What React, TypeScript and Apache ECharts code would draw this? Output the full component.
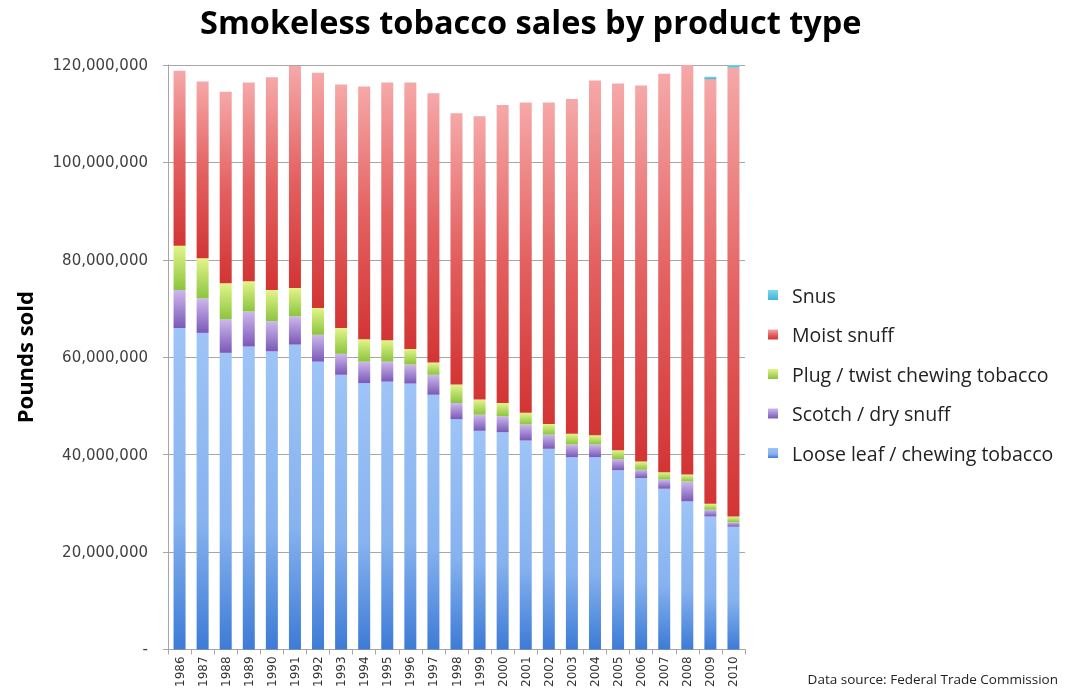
import React, { useEffect, useRef } from "react";
import * as echarts from "echarts";

const years = ["1986","1987","1988","1989","1990","1991","1992","1993","1994","1995","1996","1997","1998","1999","2000","2001","2002","2003","2004","2005","2006","2007","2008","2009","2010"];
// values in millions of pounds
const looseLeaf = [66.0,65.0,60.9,62.2,61.2,62.6,59.1,56.4,54.7,55.0,54.6,52.3,47.3,44.9,44.6,42.9,41.2,39.5,39.5,36.8,35.2,33.0,30.4,27.3,25.2];
const scotch = [7.8,7.1,6.9,7.2,6.2,5.8,5.5,4.3,4.4,4.1,3.9,4.1,3.3,3.3,3.3,3.3,2.9,2.6,2.6,2.3,1.7,1.9,4.1,1.4,0.9];
const plug = [9.1,8.2,7.4,6.2,6.4,5.8,5.5,5.3,4.6,4.4,3.2,2.5,3.8,3.1,2.7,2.4,2.2,2.2,1.9,1.8,1.7,1.5,1.4,1.2,1.2];
const moist = [35.9,36.3,39.3,40.8,43.7,45.6,48.3,50.0,51.9,52.9,54.7,55.3,55.7,58.2,61.2,63.7,66.0,68.7,72.8,75.3,77.2,81.8,84.1,87.2,92.2];
const snus = [0,0,0,0,0,0,0,0,0,0,0,0,0,0,0,0,0,0,0,0,0,0,0,0.5,0.5];
const legendOrder = ["Snus", "Moist snuff", "Plug / twist chewing tobacco", "Scotch / dry snuff", "Loose leaf / chewing tobacco"];

const grad = (stops: [number, string][]) =>
  new echarts.graphic.LinearGradient(0, 0, 0, 1, stops.map(([offset, color]) => ({ offset, color })));

export default function App() {
  const ref = useRef<HTMLDivElement>(null);
  useEffect(() => {
    if (!ref.current) return;
    const chart = echarts.init(ref.current, undefined, { renderer: "svg" });
    const mk = (name: string, arr: number[], color: any) => ({
      name,
      type: "bar",
      stack: "total",
      barWidth: 12,
      data: arr.map((v) => v * 1e6),
      itemStyle: { color },
    });
    chart.setOption({
      animation: false,
      textStyle: { fontFamily: "Open Sans" },
      title: {
        text: "Smokeless tobacco sales by product type",
        left: 195,
        top: 0,
        textStyle: { fontSize: 32.5, fontWeight: "bold", color: "#000", fontFamily: "Open Sans" },
      },
      legend: {
        orient: "vertical",
        left: 763,
        top: 280,
        itemWidth: 10,
        itemHeight: 10,
        itemGap: 19.5,
        icon: "rect",
        data: legendOrder,
        textStyle: { fontSize: 19.5, color: "#222", fontFamily: "Open Sans", padding: [0, 0, 0, 9] },
      },
      grid: { left: 168, right: 323, top: 65, bottom: 40 },
      xAxis: {
        type: "category",
        data: years,
        axisLine: { lineStyle: { color: "#A6A6A6" } },
        axisTick: { show: true, length: 5, lineStyle: { color: "#A6A6A6" } },
        axisLabel: { rotate: 90, interval: 0, fontSize: 12, color: "#333", fontFamily: "DejaVu Sans", margin: 7 },
      },
      yAxis: {
        type: "value",
        min: 0,
        max: 120000000,
        interval: 20000000,
        name: "Pounds sold",
        nameLocation: "middle",
        nameRotate: 90,
        nameGap: 133,
        nameTextStyle: { fontSize: 22, fontWeight: "bold", color: "#000", fontFamily: "Open Sans" },
        axisLine: { show: true, lineStyle: { color: "#A6A6A6" } },
        axisTick: { show: true, length: 5, lineStyle: { color: "#A6A6A6" } },
        splitLine: { lineStyle: { color: "#A6A6A6" } },
        axisLabel: {
          fontSize: 15,
          color: "#404040",
          fontFamily: "DejaVu Sans",
          margin: 20,
          formatter: (v: number) => (v === 0 ? "-" : v.toLocaleString("en-US")),
        },
      },
      series: [
        mk("Loose leaf / chewing tobacco", looseLeaf, grad([[0, "#9EC4F7"], [0.6, "#86B2EF"], [1, "#3D7BD6"]])),
        mk("Scotch / dry snuff", scotch, grad([[0, "#CDB8EC"], [1, "#7A58B8"]])),
        mk("Plug / twist chewing tobacco", plug, grad([[0, "#E2F58A"], [1, "#8CC43E"]])),
        mk("Moist snuff", moist, grad([[0, "#F6A8A8"], [0.5, "#E46262"], [1, "#D33434"]])),
        mk("Snus", snus, grad([[0, "#7FD8EE"], [1, "#3DB5D6"]])),
      ],
      graphic: [
        {
          type: "text",
          right: 10,
          top: 672,
          style: { text: "Data source: Federal Trade Commission", fontSize: 13.5, fill: "#222", fontFamily: "Open Sans" },
        },
      ],
    });
    return () => chart.dispose();
  }, []);
  return <div ref={ref} style={{ position: "fixed", left: 0, top: 0, width: 1068, height: 690 }} />;
}
